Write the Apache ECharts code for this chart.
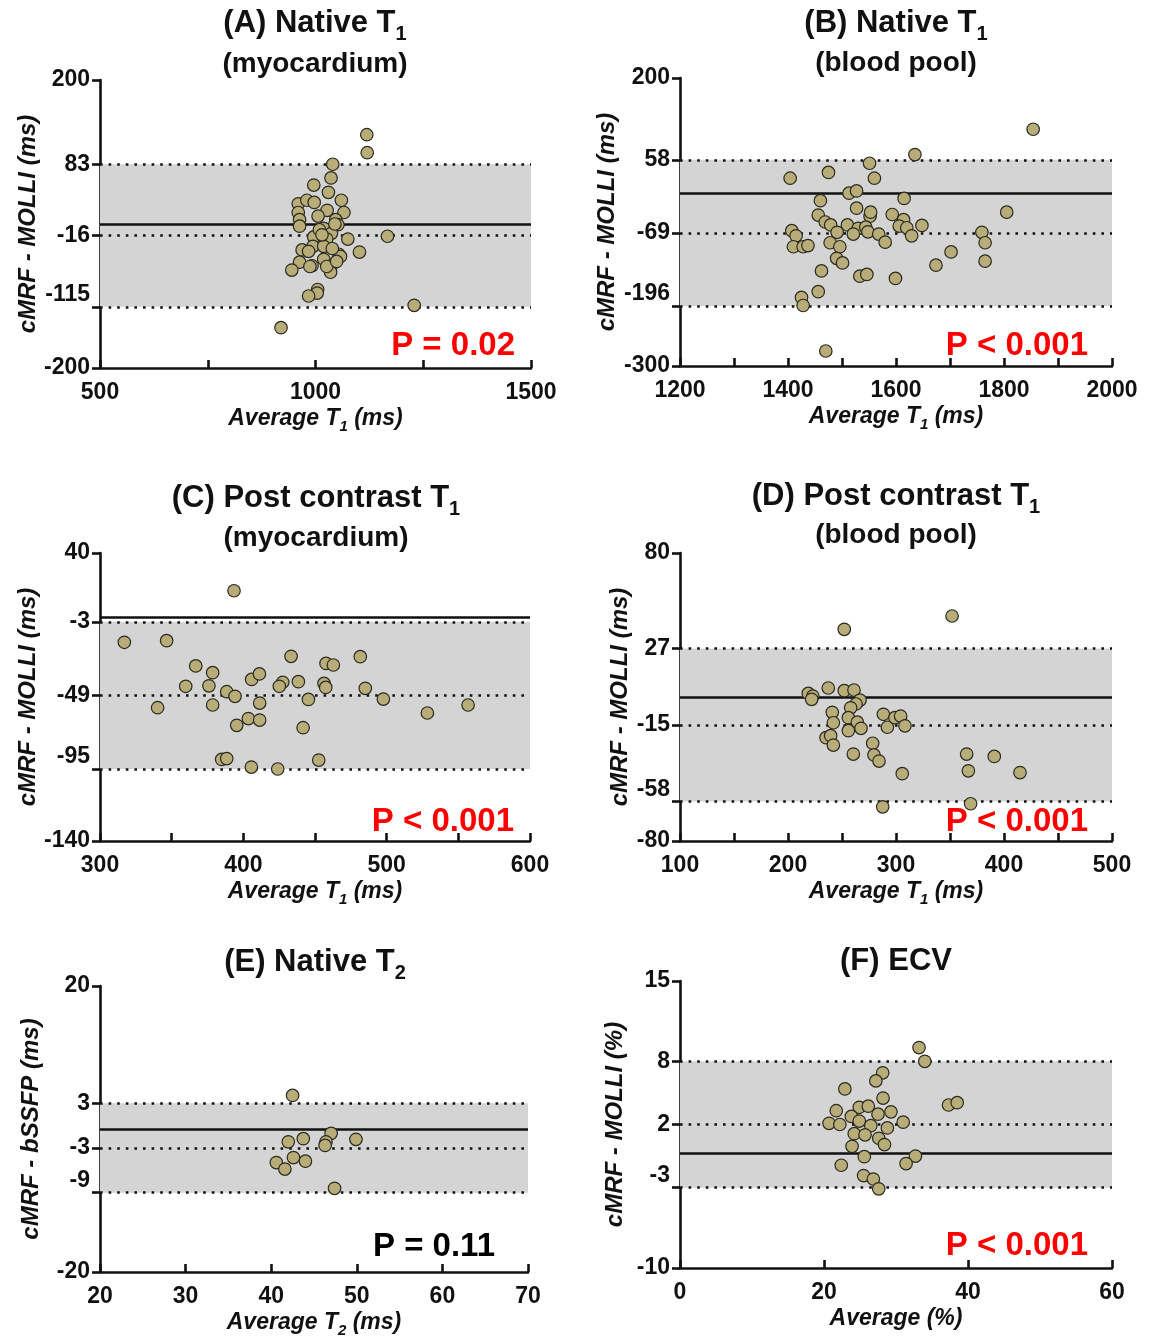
<!DOCTYPE html>
<html><head><meta charset="utf-8">
<script src="https://cdn.jsdelivr.net/npm/echarts@6/dist/echarts.min.js"></script>
<style>html,body{margin:0;padding:0;background:#fff}#c{width:1154px;height:1336px}</style>
</head><body><div id="c"></div>
<script>
// ---------------- DATA ----------------
// Panel A: Native T1 (myocardium)  [average, difference]
const pointsA = [[1119,124],[1120,99],[1040,83],[1036,64],[996,54],[1030,44],[960,28],[980,33],[997,30],[1060,33],
  [960,16],[1027,19],[1066,16],[963,6],[1006,11],[1047,6],[1052,-1],[963,-3],[1019,-6],[1037,-13],[1075,-21],
  [1167,-17],[996,-18],[1026,-21],[994,-31],[969,-36],[984,-38],[1019,-31],[1054,-42],[1102,-39],[1058,-45],
  [1019,-49],[963,-53],[945,-64],[992,-58],[987,-59],[1037,-58],[1035,-67],[1026,-59],[1005,-91],[1004,-96],
  [984,-100],[1229,-113],[920,-144],[1009,-8],[1015,-15],[1039,-34],[1049,-52],[1045,0]];
const linesA = [83, -16, -115];           // upper LoA, mean, lower LoA
const yTicksA = [200, 83, -16, -115, -200];
const yLabelsA = ['200', '83', '-16', '-115', '-200'];
const xTicksA = [500, 750, 1000, 1250, 1500];
const xLabelsA = [500, 1000, 1500];

// Panel B: Native T1 (blood pool)
const pointsB = [[1854,111],[1635,67],[1551,52],[1404,26],[1475,36],[1560,26],[1513,0],[1527,4],[1615,-9],[1460,-13],
  [1805,-33],[1527,-26],[1552,-40],[1553,-33],[1456,-38],[1593,-37],[1614,-46],[1469,-50],[1479,-55],[1510,-55],
  [1648,-56],[1606,-57],[1620,-60],[1530,-61],[1544,-59],[1548,-67],[1407,-65],[1491,-68],[1521,-71],[1568,-71],
  [1759,-68],[1415,-74],[1629,-74],[1410,-93],[1428,-93],[1437,-91],[1478,-86],[1580,-85],[1496,-93],[1765,-86],
  [1490,-113],[1501,-121],[1702,-102],[1674,-125],[1765,-118],[1462,-135],[1533,-144],[1546,-141],[1599,-148],
  [1456,-171],[1425,-181],[1428,-195],[1470,-274]];
const linesB = [58, -69, -196];
const yTicksB = [200, 58, -69, -196, -300];
const yLabelsB = ['200', '58', '-69', '-196', '-300'];
const xTicksB = [1200, 1300, 1400, 1500, 1600, 1700, 1800, 1900, 2000];
const xLabelsB = [1200, 1400, 1600, 1800, 2000];

// Panel C: Post contrast T1 (myocardium)
const pointsC = [[393.5,16.4],[317,-15.8],[346.5,-14.8],[366.8,-30.6],[378.6,-34.8],[359.8,-43.3],[376,-43],[388.4,-46.7],
  [394.2,-49.6],[340.2,-56.7],[378.6,-55],[405.8,-39],[411.2,-35.6],[411.4,-53.8],[403.5,-63.5],[411.4,-64.4],
  [395.4,-67.7],[384.9,-89],[388.4,-88.5],[405.6,-93.8],[424,-95],[433.3,-24.6],[427.5,-40.8],[425.1,-43.3],
  [438.4,-40.4],[445.4,-51.5],[441.7,-69.2],[457.7,-29],[462.8,-30],[456.3,-41.5],[457.5,-44],[452.6,-89.4],
  [481.6,-24.8],[485.1,-44.6],[497.7,-51.3],[528.4,-60],[556.8,-55]];
const linesC = [-3, -49, -95];
const yTicksC = [40, -3, -49, -95, -140];
const yLabelsC = ['40', '-3', '-49', '-95', '-140'];
const xTicksC = [300, 350, 400, 450, 500, 550, 600];
const xLabelsC = [300, 400, 500, 600];

// Panel D: Post contrast T1 (blood pool)
const pointsD = [[351.9,45],[252.1,37.6],[237.3,5],[218.8,2],[223,0.5],[221.9,-1.3],[252.1,3.5],[261.1,3.9],[266.7,-1.7],
  [263,-3.9],[258,-6],[241,-8.5],[242,-14.3],[255.9,-11.5],[264.2,-14],[267.6,-17.4],[255.9,-18.7],[235.2,-22.6],
  [239.5,-21.5],[242,-26.7],[260.5,-31.7],[278.4,-25.7],[279.6,-32.2],[284.3,-35.6],[288.3,-9.6],[292,-16.8],
  [299,-11.5],[304.3,-10.6],[308.3,-16],[305.8,-42.6],[287.7,-61],[365.4,-31.7],[367,-41],[391,-33],[414.8,-42],
  [369.1,-59.3]];
const linesD = [27, -15.5, -58];
const yTicksD = [80, 27, -15.5, -58, -80];
const yLabelsD = ['80', '27', '-15', '-58', '-80'];
const xTicksD = [100, 150, 200, 250, 300, 350, 400, 450, 500];
const xLabelsD = [100, 200, 300, 400, 500];

// Panel E: Native T2
const pointsE = [[42.5,4.7],[47.0,-0.6],[43.75,-1.35],[42.0,-1.8],[46.4,-1.8],[46.3,-2.3],[49.9,-1.45],[42.6,-4],
  [44.0,-4.5],[40.6,-4.7],[41.6,-5.6],[47.4,-8.3]];
const linesE = [3.6, -2.65, -8.9];
const yTicksE = [20, 3.6, -2.65, -8.9, -20];
const yLabelsE = ['20', '3', '-3', '-9', '-20'];
const xTicksE = [20, 30, 40, 50, 60, 70];
const xLabelsE = [20, 30, 40, 50, 60, 70];

// Panel F: ECV
const pointsF = [[33.2,9.2],[34.0,8.0],[28.15,7.0],[27.2,6.3],[22.9,5.6],[28.2,4.8],[37.3,4.2],[38.5,4.4],[24.9,4.0],
  [26.15,4.1],[21.7,3.7],[29.3,3.6],[27.5,3.4],[23.8,3.2],[24.9,2.8],[31.0,2.7],[20.7,2.6],[22.2,2.5],[26.5,2.4],
  [28.8,2.2],[24.2,1.7],[25.7,1.6],[27.6,1.3],[28.4,0.75],[23.9,0.6],[25.6,-0.3],[32.7,-0.25],[31.4,-0.9],
  [22.4,-1.05],[25.5,-1.95],[26.85,-2.25],[27.6,-3.1]];
const linesF = [8, 2.5, -3];
const yTicksF = [15, 8, 2.5, -3, -10];
const yLabelsF = ['15', '8', '2', '-3', '-10'];
const xTicksF = [0, 20, 40, 60];
const xLabelsF = [0, 20, 40, 60];

// ---------------- LAYOUT / STYLE ----------------
const FONT = 'Liberation Sans, Arial, sans-serif';
const panels = [
  {pts: pointsA, lines: linesA, yT: yTicksA, yL: yLabelsA, xT: xTicksA, xL: xLabelsA,
   grid: {left: 100, top: 80, width: 431, height: 288}, yName: 'cMRF - MOLLI (ms)', yGap: 57, xName: ['Average T', '1', ' (ms)'],
   title: ['(A) Native T', '1'], sub: '(myocardium)', tx: 315, ty: 23, sy: 64,
   p: 'P = 0.02', pc: '#ff0000', px: 515, py: 346},
  {pts: pointsB, lines: linesB, yT: yTicksB, yL: yLabelsB, xT: xTicksB, xL: xLabelsB,
   grid: {left: 680, top: 78, width: 432, height: 288}, yName: 'cMRF - MOLLI (ms)', yGap: 61, xName: ['Average T', '1', ' (ms)'],
   title: ['(B) Native T', '1'], sub: '(blood pool)', tx: 896, ty: 23, sy: 63,
   p: 'P < 0.001', pc: '#ff0000', px: 1088, py: 346},
  {pts: pointsC, lines: linesC, yT: yTicksC, yL: yLabelsC, xT: xTicksC, xL: xLabelsC,
   grid: {left: 100, top: 553, width: 430, height: 288}, yName: 'cMRF - MOLLI (ms)', yGap: 57, xName: ['Average T', '1', ' (ms)'],
   title: ['(C) Post contrast T', '1'], sub: '(myocardium)', tx: 316, ty: 498, sy: 538,
   p: 'P < 0.001', pc: '#ff0000', px: 514, py: 822},
  {pts: pointsD, lines: linesD, yT: yTicksD, yL: yLabelsD, xT: xTicksD, xL: xLabelsD,
   grid: {left: 680, top: 553, width: 432, height: 288}, yName: 'cMRF - MOLLI (ms)', yGap: 46, xName: ['Average T', '1', ' (ms)'],
   title: ['(D) Post contrast T', '1'], sub: '(blood pool)', tx: 896, ty: 496, sy: 535,
   p: 'P < 0.001', pc: '#ff0000', px: 1088, py: 822},
  {pts: pointsE, lines: linesE, yT: yTicksE, yL: yLabelsE, xT: xTicksE, xL: xLabelsE,
   grid: {left: 100, top: 986, width: 428, height: 286}, yName: 'cMRF - bSSFP (ms)', yGap: 57, xName: ['Average T', '2', ' (ms)'],
   title: ['(E) Native T', '2'], sub: null, tx: 315, ty: 962,
   p: 'P = 0.11', pc: '#000000', px: 495, py: 1247},
  {pts: pointsF, lines: linesF, yT: yTicksF, yL: yLabelsF, xT: xTicksF, xL: xLabelsF,
   grid: {left: 680, top: 981, width: 432, height: 287}, yName: 'cMRF - MOLLI (%)', yGap: 53, xName: ['Average (%)', '', ''],
   title: ['(F) ECV', ''], sub: null, tx: 896, ty: 961,
   p: 'P < 0.001', pc: '#ff0000', px: 1088, py: 1246}
];

const grids = [], xAxes = [], yAxes = [], series = [], graphics = [];
const nameRich = {
  n: {fontFamily: FONT, fontSize: 23, fontWeight: 'bold', fontStyle: 'italic', color: '#111', lineHeight: 30},
  s: {fontFamily: FONT, fontSize: 15, fontWeight: 'bold', fontStyle: 'italic', color: '#111', verticalAlign: 'bottom'}
};
panels.forEach((p, i) => {
  grids.push(Object.assign({outerBoundsMode: 'none', containLabel: false}, p.grid));
  const xn = p.xName;
  xAxes.push({
    type: 'value', gridIndex: i, min: p.xT[0], max: p.xT[p.xT.length - 1],
    name: '{n|' + xn[0] + '}' + (xn[1] ? '{s|' + xn[1] + '}{n|' + xn[2] + '}' : ''),
    nameLocation: 'middle', nameGap: 36,
    nameTextStyle: {rich: nameRich},
    axisLine: {onZero: false, lineStyle: {color: '#111', width: 2.6}},
    axisTick: {inside: true, length: 8, customValues: p.xT, lineStyle: {color: '#111', width: 2.6}},
    axisLabel: {customValues: p.xL, margin: 13, color: '#111', fontFamily: FONT, fontWeight: 'bold', fontSize: 23,
      formatter: function (v) { return String(v); }},
    splitLine: {show: false}
  });
  const yT = p.yT, yL = p.yL;
  yAxes.push({
    type: 'value', gridIndex: i, min: yT[yT.length - 1], max: yT[0],
    name: p.yName, nameLocation: 'middle', nameGap: p.yGap,
    nameTextStyle: {fontFamily: FONT, fontSize: 24, fontWeight: 'bold', fontStyle: 'italic', color: '#111'},
    axisLine: {onZero: false, lineStyle: {color: '#111', width: 2.6}},
    axisTick: {inside: false, length: 8, customValues: yT, lineStyle: {color: '#111', width: 2.6}},
    axisLabel: {
      customValues: yT, margin: 10, color: '#111', fontFamily: FONT, fontWeight: 'bold', fontSize: 23,
      formatter: function (v) {
        let k = 0, best = Infinity;
        yT.forEach((t, j) => { const d = Math.abs(t - v); if (d < best) { best = d; k = j; } });
        return k === 3 ? '{up|' + yL[k] + '}' : yL[k];
      },
      rich: {up: {fontFamily: FONT, fontWeight: 'bold', fontSize: 23, color: '#111', padding: [0, 0, 24, 0]}}
    },
    splitLine: {show: false}
  });
  const dotted = {color: '#111', width: 2.6, type: [2.6, 6], cap: 'butt'};
  series.push({
    type: 'line', xAxisIndex: i, yAxisIndex: i, data: [], silent: true, z: 1,
    markArea: {silent: true, itemStyle: {color: '#d4d4d4'},
      data: [[{yAxis: p.lines[0]}, {yAxis: p.lines[2]}]]},
    markLine: {silent: true, symbol: ['none', 'none'], label: {show: false},
      data: [
        {yAxis: p.lines[0], lineStyle: dotted},
        {yAxis: p.lines[1], lineStyle: dotted},
        {yAxis: p.lines[2], lineStyle: dotted},
        {yAxis: 0, lineStyle: {color: '#111', width: 2.6, type: 'solid'}}
      ]}
  });
  series.push({
    type: 'scatter', xAxisIndex: i, yAxisIndex: i, data: p.pts, z: 5,
    symbol: 'circle', symbolSize: 12.5,
    itemStyle: {color: '#b8ac78', borderColor: '#2a2a20', borderWidth: 1.2, opacity: 1}
  });
  // titles
  graphics.push({
    type: 'text', x: p.tx, y: p.ty, silent: true,
    style: {
      text: '{m|' + p.title[0] + '}' + (p.title[1] ? '{s|' + p.title[1] + '}' : ''),
      align: 'center', verticalAlign: 'middle', textAlign: 'center', textVerticalAlign: 'middle',
      rich: {
        m: {fontFamily: FONT, fontSize: 31, fontWeight: 'bold', fill: '#111', lineHeight: 42},
        s: {fontFamily: FONT, fontSize: 20, fontWeight: 'bold', fill: '#111', verticalAlign: 'bottom'}
      }
    }
  });
  if (p.sub) {
    graphics.push({
      type: 'text', x: p.tx, y: p.sy, silent: true,
      style: {text: p.sub, fontFamily: FONT, fontSize: 28, fontWeight: 'bold', fill: '#111',
        align: 'center', verticalAlign: 'middle', textAlign: 'center', textVerticalAlign: 'middle'}
    });
  }
  graphics.push({
    type: 'text', x: p.px, y: p.py, silent: true,
    style: {text: p.p, fontFamily: FONT, fontSize: 33, fontWeight: 'bold', fill: p.pc,
      align: 'right', verticalAlign: 'middle', textAlign: 'right', textVerticalAlign: 'middle'}
  });
});

const chart = echarts.init(document.getElementById('c'), null, {renderer: 'canvas', width: 1154, height: 1336});
chart.setOption({
  animation: false,
  backgroundColor: '#ffffff',
  grid: grids, xAxis: xAxes, yAxis: yAxes, series: series, graphic: graphics
});
</script>
</body></html>
